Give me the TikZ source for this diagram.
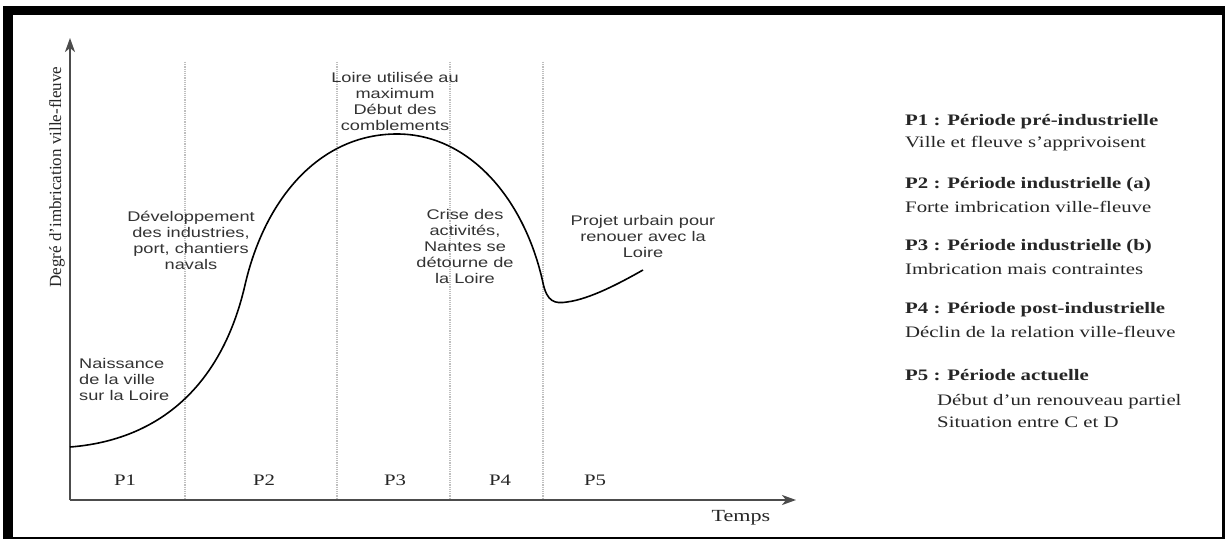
\documentclass[tikz,border=0pt]{standalone}
\usepackage{fontspec}
\newfontfamily\notefont[FakeStretch=1.3]{Liberation Sans}
\newfontfamily\keyfont[FakeStretch=1.3]{Liberation Serif}
\newfontfamily\axisfont{Liberation Serif}
\usetikzlibrary{arrows.meta}

\tikzstyle{note} = [font=\notefont\fontsize{14}{16}\selectfont, align=center, text=black!80, inner sep=0pt]
\tikzstyle{key} = [font=\keyfont\fontsize{16}{20}\selectfont, text=black!85, anchor=west, inner sep=0pt]
\tikzstyle{keyhead} = [key, font=\keyfont\fontsize{16}{20}\selectfont\bfseries]
\tikzstyle{period} = [font=\keyfont\fontsize{16}{20}\selectfont, text=black!85, inner sep=0pt]
\tikzstyle{axis} = [draw=black!70, line width=2pt, -{Stealth[length=14pt,width=10pt,inset=4pt]}]
\tikzstyle{sep} = [draw=black!25, line width=1.2pt, densely dotted]

\begin{document}
\begin{tikzpicture}[x=1pt, y=-1pt]
\useasboundingbox (0,0) rectangle (1228,540);
% frame
\fill[black] (3,6) rectangle (1225,539);
\fill[white] (13,15) rectangle (1222,537);

% period separators
\foreach \x in {185,337,450,543}
    \draw[sep] (\x,62) -- (\x,500);

% axes
\coordinate (origin) at (70,500);
\coordinate (ytip) at (70,38);
\coordinate (xtip) at (796,500);
\draw[axis] (origin) -- (ytip);
\draw[axis] (origin) -- (xtip);
\node[rotate=90, font=\axisfont\fontsize{17}{17}\selectfont, text=black!85, inner sep=0pt] (ylabel) at (57,177) {Degré d’imbrication ville-fleuve};
\node[period, font=\keyfont\fontsize{17}{20}\selectfont] (temps) at (741,518) {Temps};

% curve
\coordinate (start) at (70,447);
\coordinate (bend) at (245,285);
\coordinate (peak) at (397,134);
\coordinate (fall) at (543,283);
\coordinate (low) at (567,302);
\coordinate (now) at (643,270);
\draw[line width=1.6pt, line join=round]
    (start) .. controls (160,440) and (222,385) .. (bend)
    .. controls (265,198) and (320,134) .. (peak)
    .. controls (470,134) and (525,200) .. (fall)
    .. controls (547,302) and (555,304) .. (low)
    .. controls (590,299) and (620,283) .. (now);

% period names
\foreach \i/\x in {1/125,2/264,3/395,4/500,5/595}
    \node[period] (p\i) at (\x,480) {P\i};

% notes
\node[note, align=left, anchor=west] (naissance) at (79,379) {Naissance\\de la ville\\sur la Loire};
\node[note] (essor) at (191,240) {Développement\\des industries,\\port, chantiers\\navals};
\node[note] (maxi) at (395,101) {Loire utilisée au\\maximum\\Début des\\comblements};
\node[note] (crise) at (465,246) {Crise des\\activités,\\Nantes se\\détourne de\\la Loire};
\node[note] (projet) at (643,236) {Projet urbain pour\\renouer avec la\\Loire};

% key
\foreach \i/\y/\head/\desc in {
    1/122/pré-industrielle/Ville et fleuve s’apprivoisent,
    2/185/industrielle (a)/Forte imbrication ville-fleuve,
    3/247/industrielle (b)/Imbrication mais contraintes,
    4/310/post-industrielle/Déclin de la relation ville-fleuve}
{
    \node[keyhead] (head\i) at (905,\y) {P\i{} : Période \head};
    \node[key] (desc\i) at (905,\y+22) {\desc};
}
\node[keyhead] (head5) at (905,375) {P5 : Période actuelle};
\node[key] (desc5a) at (937,402) {Début d’un renouveau partiel};
\node[key] (desc5b) at (937,422) {Situation entre C et D};
\end{tikzpicture}
\end{document}
